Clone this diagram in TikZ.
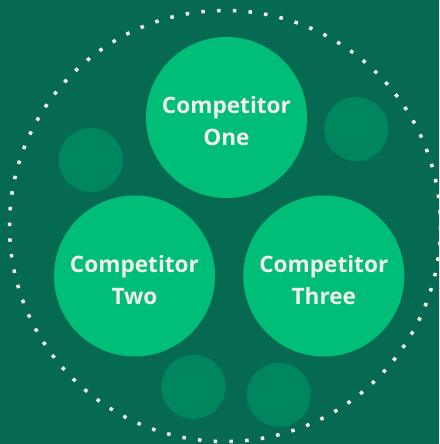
\documentclass[tikz,border=0pt]{standalone}
\usepackage{fontspec}
\setmainfont{Open Sans}
\definecolor{bgc}{HTML}{066A52}
\definecolor{bigc}{HTML}{00BE78}
\definecolor{smallc}{HTML}{00865E}
\definecolor{txtc}{HTML}{F2F0E6}
\begin{document}
\begin{tikzpicture}[x=1pt,y=-1pt,
  bigcirc/.style={circle,fill=bigc,minimum size=161pt,inner sep=0pt},
  bigtext/.style={text=txtc,inner sep=0pt,yshift=-4pt,
    font=\fontsize{22.6}{32}\selectfont\bfseries,align=center},
  smallcirc/.style={circle,fill=smallc,minimum size=64pt,inner sep=0pt},
  dotring/.style={draw=txtc,line width=3.5pt,dash pattern=on 3.5pt off 12.245pt}]
\fill[bgc] (0,0) rectangle (439,444);
\useasboundingbox (0,0) rectangle (439,444);
\begin{scope}
\clip (0,0) rectangle (439,444);
\draw[dotring] (225,226) circle[radius=215.5];
\end{scope}
\node[smallcirc] (s1) at (90.8,160) {};
\node[smallcirc] (s2) at (356.2,129) {};
\node[smallcirc] (s3) at (193.5,386.8) {};
\node[smallcirc] (s4) at (278.8,394.8) {};
\node[bigcirc] (one) at (226.5,117.5) {};
\node[bigcirc] (two) at (134.5,276) {};
\node[bigcirc] (three) at (323.8,276) {};
\node[bigtext] (tone) at (one.center) {Competitor\\One};
\node[bigtext] (ttwo) at (two.center) {Competitor\\Two};
\node[bigtext] (tthree) at (three.center) {Competitor\\Three};
\end{tikzpicture}
\end{document}
